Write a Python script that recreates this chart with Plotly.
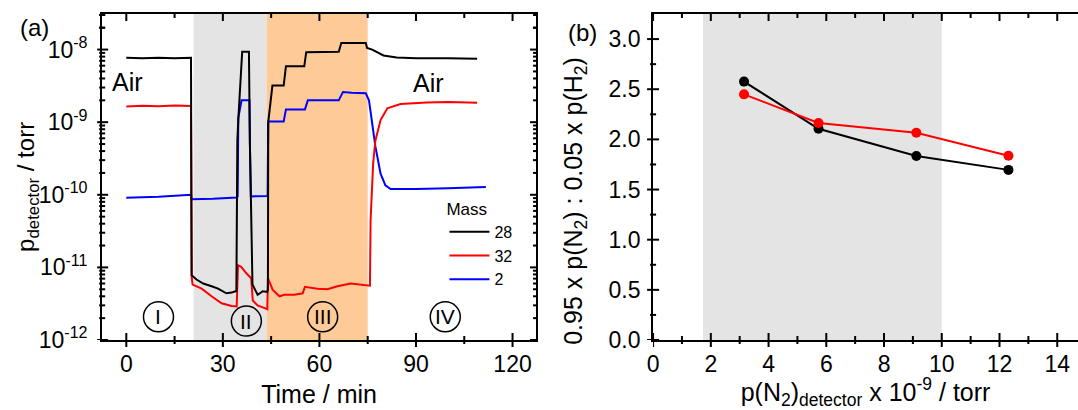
import plotly.graph_objects as go

# ---------------- Panel (a): time series ----------------
t28 = [0, 5, 10, 15, 20.1, 20.3, 21.8, 23.9, 26.5, 28.5, 31.1, 32.7, 33.9, 34.2, 34.5, 34.8,
       36.0, 38.1, 38.4, 39.2, 40.8, 42.4, 43.8, 44.0, 44.1, 44.8, 45.4, 48.9, 49.6, 55.3, 55.9,
       66.0, 66.8, 74.4, 74.8, 76.4, 79.9, 84.0, 90, 100, 109]
p28 = [7.7e-9, 7.6e-9, 7.7e-9, 7.6e-9, 7.7e-9, 7.8e-12, 6.8e-12, 6.0e-12, 5.5e-12, 5.1e-12,
       4.4e-12, 4.5e-12, 4.7e-12, 4.7e-12, 5.6e-10, 1.1e-9, 9.3e-9, 9.3e-9, 5.0e-10, 5.8e-12,
       4.2e-12, 4.7e-12, 4.6e-12, 5.0e-12, 1.0e-9, 2.0e-9, 3.2e-9, 3.2e-9, 5.9e-9, 5.9e-9, 9.2e-9,
       9.3e-9, 1.23e-8, 1.23e-8, 1.05e-8, 1.0e-8, 8.3e-9, 7.8e-9, 7.6e-9, 7.6e-9, 7.5e-9]

t32 = [0, 5, 10, 15, 20.1, 20.3, 20.6, 23.4, 26.5, 29.6, 32.7, 34.3, 34.7, 35.7, 37.3, 38.8,
       39.3, 40.8, 43.0, 43.8, 44.0, 45.5, 47.6, 49.1, 52.2, 54.8, 55.5, 59.4, 62.5, 65.6, 69.7,
       74.4, 75.7, 75.9, 76.7, 77.4, 79.0, 81.1, 85.2, 93.4, 100, 109]
p32 = [1.65e-9, 1.68e-9, 1.66e-9, 1.70e-9, 1.67e-9, 7.4e-12, 5.8e-12, 5.1e-12, 4.0e-12, 3.2e-12,
       2.95e-12, 2.9e-12, 1.07e-11, 1.02e-11, 8.3e-12, 7.1e-12, 3.5e-12, 3.0e-12, 2.75e-12,
       2.65e-12, 7.1e-12, 4.9e-12, 4.0e-12, 4.2e-12, 4.2e-12, 4.4e-12, 5.4e-12, 5.1e-12, 5.0e-12,
       5.5e-12, 6.0e-12, 5.75e-12, 5.6e-12, 4.5e-11, 2.75e-10, 5.6e-10, 1.07e-9, 1.55e-9, 1.78e-9,
       1.86e-9, 1.9e-9, 1.85e-9]

t2 = [0, 10, 20.1, 20.3, 27, 34.3, 34.6, 34.8, 35.8, 38.0, 38.26, 38.4, 38.7, 43.9, 44.1, 48.9,
      49.6, 55.5, 56.4, 66.0, 67.3, 70, 74.4, 75.4, 76.4, 77.4, 79.0, 80.5, 82.1, 90, 100, 111.7]
p2 = [9.1e-11, 9.4e-11, 1.0e-10, 8.7e-11, 8.8e-11, 9.2e-11, 9.5e-11, 1.15e-9, 2.0e-9, 2.0e-9,
      2.0e-9, 5.0e-10, 9.5e-11, 9.6e-11, 1.02e-9, 1.02e-9, 1.5e-9, 1.5e-9, 2.0e-9, 2.0e-9, 2.6e-9,
      2.55e-9, 2.5e-9, 2.0e-9, 9.5e-10, 4.6e-10, 1.95e-10, 1.35e-10, 1.2e-10, 1.2e-10, 1.23e-10,
      1.28e-10]

# tick positions, panel (a)
x_major_a = [0, 30, 60, 90, 120]
x_minor_a = [15, 45, 75, 105]
y_major_a = [1e-12, 1e-11, 1e-10, 1e-9, 1e-8]
y_text_a = ["10<sup>-12</sup>", "10<sup>-11</sup>", "10<sup>-10</sup>",
            "10<sup>-9</sup>", "10<sup>-8</sup>"]
y_minor_a = [k * 10.0 ** e for e in range(-12, -7) for k in range(2, 10)] + [2e-8, 3e-8]

regions_a = [(20.9, 43.6, "#e4e4e4"), (43.6, 75.0, "#fdca98")]
stage_labels = ["I", "II", "III", "IV"]
stage_t = [10.0, 37.3, 61.0, 99.1]
stage_logp = [-11.68, -11.74, -11.68, -11.68]

# ---------------- Panel (b) ----------------
pN2 = [3.15, 5.73, 9.12, 12.31]
ratio_black = [2.576, 2.106, 1.834, 1.696]
ratio_red = [2.449, 2.163, 2.066, 1.837]
region_b = (1.73, 10.0, "#e4e4e4")

x_major_b = [0, 2, 4, 6, 8, 10, 12, 14]
x_minor_b = [1, 3, 5, 7, 9, 11, 13]
y_major_b = [0.0, 0.5, 1.0, 1.5, 2.0, 2.5, 3.0]
y_minor_b = [0.25, 0.75, 1.25, 1.75, 2.25, 2.75]

FONT = "Liberation Sans, Arial, sans-serif"
W, H = 1078, 410
TOP, BOT = 14, 340

fig = go.Figure()
fig.add_trace(go.Scatter(x=t2, y=p2, mode="lines", name="2",
                         line=dict(color="#0000ff", width=2)))
fig.add_trace(go.Scatter(x=t32, y=p32, mode="lines", name="32",
                         line=dict(color="#ff0000", width=2)))
fig.add_trace(go.Scatter(x=t28, y=p28, mode="lines", name="28",
                         line=dict(color="#000000", width=2)))
fig.add_trace(go.Scatter(x=pN2, y=ratio_black, mode="lines+markers", xaxis="x2", yaxis="y2",
                         showlegend=False, line=dict(color="black", width=2),
                         marker=dict(color="black", size=10)))
fig.add_trace(go.Scatter(x=pN2, y=ratio_red, mode="lines+markers", xaxis="x2", yaxis="y2",
                         showlegend=False, line=dict(color="#ff0000", width=2),
                         marker=dict(color="#ff0000", size=10)))

xa_dom = [96.7 / W, 533 / W]
xb_dom = [650.7 / W, 1.0]
xa_range = [-7.5, 127.3]
xb_range = [0, (W - 650.7) / 29.03]
ya_range = [-12, -7.51]
yb_range = [0, 3.25]

tf = dict(size=23, color="black", family=FONT)
NO_TICK = "rgba(0,0,0,0)"

fig.update_layout(
    width=W, height=H,
    margin=dict(l=0, r=0, t=TOP, b=H - BOT),
    paper_bgcolor="white", plot_bgcolor="white",
    font=dict(family=FONT, color="black"),
    showlegend=True,
    legend=dict(x=0.409, y=0.452, xanchor="left", yanchor="top",
                traceorder="reversed", bgcolor="rgba(0,0,0,0)", itemwidth=40,
                font=dict(size=16), title=dict(text="Mass", font=dict(size=17)),
                tracegroupgap=0),
)

fig.layout.xaxis = go.layout.XAxis(
    domain=xa_dom, anchor="y", range=xa_range,
    tickmode="array", tickvals=x_major_a,
    ticks="outside", ticklen=2, tickwidth=2, tickcolor=NO_TICK,
    showline=True, linecolor="#000000", linewidth=2, mirror=True,
    showgrid=False, zeroline=False, tickfont=tf,
    title=dict(text="Time / min", font=dict(size=25), standoff=10))
fig.layout.yaxis = go.layout.YAxis(
    domain=[0, 1], anchor="x", type="log", range=ya_range,
    tickmode="array", tickvals=y_major_a, ticktext=y_text_a,
    ticks="outside", ticklen=8, tickwidth=2, tickcolor=NO_TICK,
    showline=True, linecolor="#000000", linewidth=2, mirror=True,
    showgrid=False, zeroline=False, tickfont=tf)
fig.layout.xaxis2 = go.layout.XAxis(
    domain=xb_dom, anchor="y2", range=xb_range, tickmode="array", tickvals=x_major_b,
    ticks="outside", ticklen=2, tickwidth=2, tickcolor=NO_TICK,
    showline=True, linecolor="#000000", linewidth=2, mirror=True,
    showgrid=False, zeroline=False, tickfont=tf,
    title=dict(text="p(N<sub>2</sub>)<sub>detector</sub> x 10<sup>-9</sup> / torr",
               font=dict(size=25), standoff=13))
fig.layout.yaxis2 = go.layout.YAxis(
    domain=[0, 1], anchor="x2", range=yb_range, tickmode="array", tickvals=y_major_b,
    tickformat=".1f", ticks="outside", ticklen=6, tickwidth=2, tickcolor=NO_TICK,
    showline=True, linecolor="#000000", linewidth=2, mirror=False,
    showgrid=False, zeroline=False, tickfont=tf)

# shaded regions
for x0, x1, col in regions_a:
    fig.add_shape(type="rect", xref="x", yref="y domain", x0=x0, x1=x1, y0=0, y1=1,
                  fillcolor=col, line=dict(width=0), layer="below")
fig.add_shape(type="rect", xref="x2", yref="y2 domain", x0=region_b[0], x1=region_b[1],
              y0=0, y1=1, fillcolor=region_b[2], line=dict(width=0), layer="below")

TL = dict(color="black", width=2)


def xticks(xref, yref, vals, lo, hi, top_len):
    for v in vals:
        fig.add_shape(type="line", xref=xref, yref=yref, x0=v, x1=v, ysizemode="pixel",
                      yanchor=0, y0=-lo, y1=hi, line=TL, layer="above")
        fig.add_shape(type="line", xref=xref, yref=yref, x0=v, x1=v, ysizemode="pixel",
                      yanchor=1, y0=-top_len, y1=0, line=TL, layer="above")


def yticks(xref, yref, vals, lo, hi, right_len):
    for v in vals:
        fig.add_shape(type="line", xref=xref, yref=yref, y0=v, y1=v, xsizemode="pixel",
                      xanchor=0, x0=-lo, x1=hi, line=TL, layer="above")
        if right_len:
            fig.add_shape(type="line", xref=xref, yref=yref, y0=v, y1=v, xsizemode="pixel",
                          xanchor=1, x0=-right_len, x1=0, line=TL, layer="above")


xticks("x", "y domain", x_major_a, 7, 7, 7)
xticks("x", "y domain", x_minor_a, 4, 4, 4)
yticks("x domain", "y", y_major_a, 5, 6, 6)
yticks("x domain", "y", y_minor_a, 3, 3, 3)
xticks("x2", "y2 domain", x_major_b, 7, 7, 7)
xticks("x2", "y2 domain", x_minor_b, 4, 4, 4)
yticks("x2 domain", "y2", y_major_b, 6, 6, 0)
yticks("x2 domain", "y2", y_minor_b, 3, 3, 0)

# stage circles and labels
for lab, tx, lp in zip(stage_labels, stage_t, stage_logp):
    yd = (lp - ya_range[0]) / (ya_range[1] - ya_range[0])
    fig.add_shape(type="circle", xref="x", yref="y domain", xsizemode="pixel",
                  ysizemode="pixel", xanchor=tx, yanchor=yd, x0=-15, x1=15, y0=-15, y1=15,
                  line=dict(color="black", width=1.5), fillcolor="rgba(0,0,0,0)")
    fig.add_annotation(x=tx, y=lp, xref="x", yref="y", text=lab, showarrow=False,
                       font=dict(size=21, color="black"))

# "Air" labels
fig.add_annotation(x=0.3, y=-8.45, xref="x", yref="y", text="Air", showarrow=False,
                   font=dict(size=25, color="black"))
fig.add_annotation(x=94, y=-8.46, xref="x", yref="y", text="Air", showarrow=False,
                   font=dict(size=25, color="black"))

# y-axis titles (rotated text)
PH = BOT - TOP
fig.add_annotation(x=21 / W, y=(BOT - 187) / PH, xref="paper", yref="paper",
                   xanchor="center", yanchor="middle", textangle=-90,
                   text="p<sub>detector</sub> / torr", showarrow=False,
                   font=dict(size=24, color="black"))
fig.add_annotation(x=572 / W, y=(BOT - 201) / PH, xref="paper", yref="paper",
                   xanchor="center", yanchor="middle", textangle=-90,
                   text="0.95 x p(N<sub>2</sub>) : 0.05 x p(H<sub>2</sub>)", showarrow=False,
                   font=dict(size=25, color="black"))

# panel labels
fig.add_annotation(x=29 / W, y=(BOT - 28) / PH, xref="paper", yref="paper",
                   xanchor="center", yanchor="middle",
                   text="(a)", showarrow=False, font=dict(size=24, color="black"))
fig.add_annotation(x=580 / W, y=(BOT - 32) / PH, xref="paper", yref="paper",
                   xanchor="center", yanchor="middle",
                   text="(b)", showarrow=False, font=dict(size=24, color="black"))

fig.write_html("out.html")
